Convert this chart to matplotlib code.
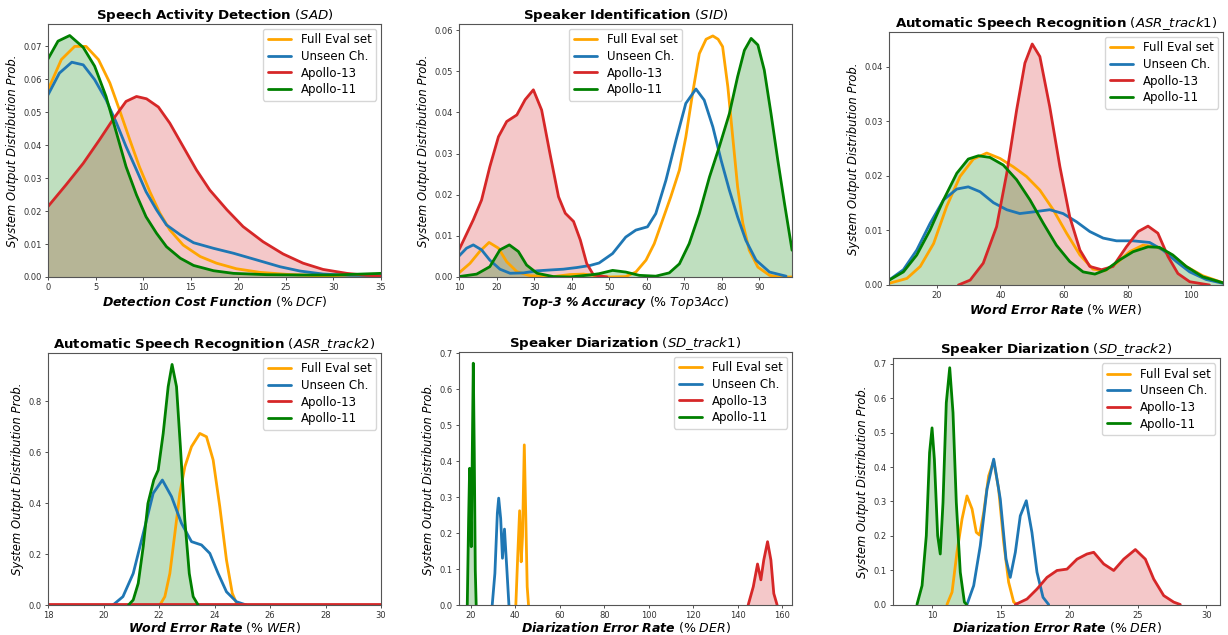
import matplotlib
matplotlib.use("Agg")
import matplotlib.pyplot as plt

# ---------------- data ----------------
LABELS = ["Full Eval set", "Unseen Ch.", "Apollo-13", "Apollo-11"]

# Panel 1: SAD
SAD_FULL_X = [0, 1.4, 2.8, 4.0, 5.3, 6.5, 7.5, 8.6, 9.6, 10.7, 11.75, 12.8, 14.2, 16.0, 17.7, 19.8, 22.3, 25.1, 28.2, 35]
SAD_FULL_Y = [0.0568, 0.066, 0.070, 0.070, 0.066, 0.0589, 0.0508, 0.0416, 0.0335, 0.0259, 0.0194, 0.0143, 0.0097, 0.0062, 0.0042, 0.0025, 0.0014, 0.0008, 0.0004, 0.0002]
SAD_UNSEEN_X = [0, 1.2, 2.5, 3.7, 4.9, 6.1, 7.2, 8.2, 9.3, 10.3, 11.4, 12.45, 13.9, 15.3, 17.4, 19.5, 21.9, 24.4, 26.5, 28.9, 31.7, 35]
SAD_UNSEEN_Y = [0.0553, 0.0619, 0.0652, 0.0644, 0.0599, 0.0538, 0.0467, 0.0396, 0.0325, 0.0259, 0.0204, 0.0158, 0.0128, 0.0104, 0.0087, 0.0072, 0.0052, 0.0031, 0.0018, 0.0009, 0.0005, 0.0004]
SAD_A13_X = [0, 1.9, 3.7, 5.4, 6.8, 8.2, 9.3, 10.35, 11.6, 12.8, 14.2, 15.6, 17.0, 18.8, 20.5, 22.6, 24.7, 26.8, 28.9, 31.4, 33.5, 35]
SAD_A13_Y = [0.0214, 0.028, 0.0345, 0.0416, 0.0477, 0.0533, 0.0548, 0.0541, 0.0516, 0.0467, 0.0396, 0.0325, 0.0264, 0.0204, 0.0153, 0.0107, 0.0070, 0.0042, 0.0023, 0.0011, 0.0005, 0.0003]
SAD_A11_X = [0, 1.05, 2.28, 3.7, 4.9, 6.1, 7.2, 8.2, 9.3, 10.3, 11.4, 12.45, 13.9, 15.3, 17.4, 19.5, 23.0, 26.5, 30.0, 35]
SAD_A11_Y = [0.0662, 0.0716, 0.0733, 0.0697, 0.064, 0.0548, 0.0437, 0.0335, 0.0249, 0.0183, 0.0133, 0.0092, 0.0057, 0.0035, 0.0019, 0.0011, 0.0007, 0.0006, 0.0006, 0.0011]

# Panel 2: SID
SID_FULL_X = [10.0, 12.9, 15.6, 18.0, 20.5, 22.7, 25.4, 28.9, 34.3, 39.6, 43.2, 46.8, 50.3, 54.4, 57.1, 59.8, 62.0, 64.2, 66.4, 68.7, 70.4, 72.2, 74.0, 75.8, 77.6, 79.0, 80.2, 81.6, 82.9, 84.2, 85.6, 87.3, 89.6, 92.7, 95.3, 98.7]
SID_FULL_Y = [0.001, 0.0033, 0.0063, 0.0084, 0.007, 0.0037, 0.0013, 0.0003, 0.0, 0.0006, 0.0007, 0.0003, 0.0, 0.0001, 0.0012, 0.0041, 0.0081, 0.0138, 0.0195, 0.026, 0.034, 0.0446, 0.0543, 0.0578, 0.0586, 0.0578, 0.056, 0.0462, 0.034, 0.0219, 0.013, 0.0065, 0.0024, 0.0004, 0.0, 0.0]
SID_UNSEEN_X = [10.0, 12.0, 13.8, 16.0, 18.2, 20.9, 23.6, 27.2, 30.8, 34.2, 37.8, 41.4, 44.9, 47.3, 50.9, 54.4, 57.1, 60.2, 62.4, 65.1, 67.8, 70.4, 73.1, 75.3, 77.6, 79.8, 82.0, 84.2, 86.4, 89.1, 92.7, 97.1]
SID_UNSEEN_Y = [0.0051, 0.007, 0.0078, 0.0066, 0.0041, 0.0019, 0.0009, 0.001, 0.0015, 0.0017, 0.0019, 0.0023, 0.0028, 0.0034, 0.0057, 0.0097, 0.0114, 0.0122, 0.0154, 0.0235, 0.0333, 0.0422, 0.0457, 0.043, 0.0365, 0.0284, 0.0211, 0.0146, 0.0089, 0.0041, 0.0012, 0.0002]
SID_A13_X = [10.0, 13.8, 16.0, 18.2, 20.5, 22.7, 25.4, 27.6, 29.8, 32.0, 34.2, 36.5, 38.3, 40.5, 42.3, 44.0, 45.8, 49.4]
SID_A13_Y = [0.0066, 0.0139, 0.0187, 0.0268, 0.0341, 0.0378, 0.0394, 0.0431, 0.0455, 0.0406, 0.0301, 0.0195, 0.0155, 0.0135, 0.009, 0.0033, 0.0005, 0.0]
SID_A11_X = [10.0, 14.7, 18.2, 20.9, 23.4, 25.8, 28.0, 30.8, 35.1, 39.6, 44.9, 47.3, 50.9, 54.4, 58.0, 62.4, 66.0, 68.7, 71.3, 74.0, 76.7, 79.3, 82.0, 84.2, 86.0, 87.8, 89.6, 91.3, 93.1, 94.9, 96.7, 98.7]
SID_A11_Y = [0.0001, 0.0007, 0.0025, 0.0066, 0.0078, 0.0062, 0.0029, 0.0009, 0.0001, 0.0, 0.0005, 0.0008, 0.0016, 0.0012, 0.0004, 0.0002, 0.001, 0.0032, 0.0081, 0.0154, 0.0243, 0.0316, 0.0397, 0.0487, 0.0551, 0.058, 0.0564, 0.0503, 0.0397, 0.0284, 0.0178, 0.0065]

# Panel 3: ASR track1
ASR1_FULL_X = [5.0, 10.6, 14.8, 19.0, 23.1, 27.3, 31.5, 35.7, 39.9, 44.0, 48.2, 52.4, 56.6, 60.8, 65.0, 69.1, 72.8, 76.5, 80.6, 84.8, 89.0, 93.2, 98.4, 103.6, 110.0]
ASR1_FULL_Y = [0.0003, 0.0012, 0.0034, 0.0076, 0.0144, 0.0199, 0.0231, 0.0242, 0.0232, 0.0217, 0.0199, 0.0174, 0.0138, 0.0095, 0.0055, 0.0029, 0.0026, 0.004, 0.0061, 0.0073, 0.007, 0.0058, 0.0034, 0.0017, 0.0004]
ASR1_UNSEEN_X = [5.0, 9.5, 13.7, 17.9, 22.1, 26.3, 29.9, 33.6, 37.8, 42.0, 46.1, 50.3, 55.5, 59.7, 63.9, 68.1, 72.3, 76.5, 81.7, 86.9, 91.1, 95.3, 99.5, 104.7, 110.0]
ASR1_UNSEEN_Y = [0.0009, 0.0028, 0.0064, 0.0113, 0.0156, 0.0176, 0.018, 0.0171, 0.0151, 0.0138, 0.0131, 0.0134, 0.0138, 0.0131, 0.0116, 0.0098, 0.0086, 0.0081, 0.0081, 0.0078, 0.0064, 0.0043, 0.0024, 0.001, 0.0003]
ASR1_A13_X = [26.8, 30.5, 34.6, 38.8, 42.0, 45.1, 47.7, 50.0, 52.4, 55.5, 58.7, 61.8, 65.0, 68.1, 71.8, 75.4, 79.6, 83.3, 86.4, 89.5, 92.7, 95.8, 99.5, 105.7]
ASR1_A13_Y = [0.0, 0.0009, 0.004, 0.0107, 0.0205, 0.0321, 0.0407, 0.0442, 0.0419, 0.0327, 0.0217, 0.0125, 0.0064, 0.0034, 0.0028, 0.0034, 0.007, 0.0098, 0.0108, 0.0095, 0.0052, 0.0021, 0.0006, 0.0]
ASR1_A11_X = [5.05, 9.5, 13.7, 17.9, 22.1, 26.3, 29.9, 33.1, 36.7, 40.9, 45.1, 49.3, 53.5, 57.6, 61.8, 66.0, 69.7, 73.3, 77.5, 81.7, 86.4, 90.0, 94.2, 98.4, 103.6, 110.0]
ASR1_A11_Y = [0.0009, 0.0024, 0.0055, 0.0101, 0.0156, 0.0205, 0.0231, 0.0237, 0.0234, 0.022, 0.0193, 0.0156, 0.0113, 0.0073, 0.0043, 0.0024, 0.002, 0.0028, 0.0046, 0.0061, 0.007, 0.0069, 0.0055, 0.0034, 0.0015, 0.0004]

# Panel 4: ASR track2
ASR2_FULL_X = [22.03, 22.21, 22.39, 22.57, 22.75, 22.93, 23.17, 23.47, 23.71, 23.95, 24.19, 24.43, 24.64, 24.82]
ASR2_FULL_Y = [0.0, 0.033, 0.124, 0.281, 0.439, 0.543, 0.622, 0.674, 0.661, 0.57, 0.386, 0.177, 0.046, 0.0]
ASR2_UNSEEN_X = [20.34, 20.7, 21.07, 21.43, 21.79, 22.12, 22.45, 22.81, 23.17, 23.53, 23.83, 24.13, 24.43, 24.79, 25.15]
ASR2_UNSEEN_Y = [0.0, 0.033, 0.124, 0.281, 0.439, 0.491, 0.426, 0.321, 0.249, 0.236, 0.203, 0.124, 0.052, 0.013, 0.0]
ASR2_A13_X = [18.0, 30.0]
ASR2_A13_Y = [0.006, 0.006]
ASR2_A11_X = [20.9, 21.07, 21.25, 21.43, 21.6, 21.81, 21.97, 22.15, 22.33, 22.47, 22.63, 22.77, 22.93, 23.09, 23.23, 23.41]
ASR2_A11_Y = [0.0, 0.02, 0.085, 0.229, 0.399, 0.491, 0.53, 0.674, 0.858, 0.945, 0.858, 0.622, 0.334, 0.124, 0.033, 0.0]

# Panel 5: SD track1
SD1_FULL_X = [40.3, 41.2, 42.0, 42.7, 43.3, 44.1, 44.8, 45.4, 46.0]
SD1_FULL_Y = [0.0, 0.144, 0.262, 0.12, 0.19, 0.445, 0.236, 0.051, 0.0]
SD1_UNSEEN_X = [29.7, 30.9, 32.0, 32.6, 33.5, 34.3, 35.2, 36.2, 37.2]
SD1_UNSEEN_Y = [0.0, 0.088, 0.255, 0.297, 0.24, 0.13, 0.211, 0.107, 0.0]
SD1_A13_X = [144.6, 146.9, 148.8, 150.3, 151.6, 153.3, 154.8, 156.1, 157.6]
SD1_A13_Y = [0.0, 0.051, 0.114, 0.07, 0.125, 0.176, 0.125, 0.032, 0.0]
SD1_A11_X = [18.5, 19.1, 19.55, 20.0, 20.3, 20.75, 21.2, 21.65, 22.1, 22.5]
SD1_A11_Y = [0.0, 0.236, 0.38, 0.236, 0.162, 0.42, 0.672, 0.42, 0.097, 0.0]

# Panel 6: SD track2
SD2_FULL_X = [11.07, 11.44, 11.8, 12.17, 12.53, 12.9, 13.21, 13.45, 13.75, 14.11, 14.48, 14.84, 15.21, 15.57, 15.94, 16.2]
SD2_FULL_Y = [0.0, 0.036, 0.152, 0.249, 0.316, 0.278, 0.21, 0.202, 0.268, 0.374, 0.418, 0.336, 0.181, 0.065, 0.007, 0.0]
SD2_UNSEEN_X = [12.53, 13.02, 13.5, 13.99, 14.48, 14.96, 15.38, 15.69, 16.06, 16.42, 16.86, 17.27, 17.64, 18.08, 18.49]
SD2_UNSEEN_Y = [0.0, 0.055, 0.171, 0.336, 0.423, 0.307, 0.132, 0.079, 0.152, 0.258, 0.302, 0.21, 0.094, 0.021, 0.0]
SD2_A13_X = [16.06, 16.91, 17.64, 18.37, 19.1, 19.83, 20.56, 21.29, 21.78, 22.51, 23.24, 23.97, 24.82, 25.55, 26.16, 26.89, 27.62, 28.1]
SD2_A13_Y = [0.0, 0.016, 0.045, 0.079, 0.099, 0.103, 0.132, 0.147, 0.152, 0.118, 0.099, 0.132, 0.16, 0.132, 0.074, 0.026, 0.007, 0.0]
SD2_A11_X = [8.88, 9.25, 9.56, 9.8, 9.98, 10.15, 10.39, 10.58, 10.78, 11.02, 11.27, 11.51, 11.75, 12.04, 12.34, 12.5]
SD2_A11_Y = [0.0, 0.055, 0.2, 0.442, 0.514, 0.423, 0.2, 0.147, 0.297, 0.587, 0.689, 0.558, 0.297, 0.094, 0.007, 0.0]

# ---------------- styling ----------------
COLORS = ["#ffa500", "#1f77b4", "#d62728", "#008000"]
FILLED = [False, False, True, True]

TITLE_FS = 9.6
XLABEL_FS = 9.0
YLABEL_FS = 8.4
TICK_FS = 6
LEGEND_FS = 8.5
LW = 2.0

panels = [
    dict(pos=[0.0391, 0.5638, 0.2712, 0.3984],
         title=r'$\bf{Speech\ Activity\ Detection}$ ($\mathit{SAD}$)',
         xlabel=r'$\mathbfit{Detection\ Cost\ Function}$ (% $\mathit{DCF}$)',
         series=[(SAD_FULL_X, SAD_FULL_Y), (SAD_UNSEEN_X, SAD_UNSEEN_Y), (SAD_A13_X, SAD_A13_Y), (SAD_A11_X, SAD_A11_Y)],
         xlim=(0, 35), ylim=(0, 0.0768), xticks=[0, 5, 10, 15, 20, 25, 30, 35],
         yticks=[0, 0.01, 0.02, 0.03, 0.04, 0.05, 0.06, 0.07], yfmt='{:.2f}', loc='upper right', pad=1),
    dict(pos=[0.3738, 0.5638, 0.2712, 0.3984],
         title=r'$\bf{Speaker\ Identification}$ ($\mathit{SID}$)',
         xlabel=r'$\mathbfit{Top‐3\ \%\ Accuracy}$ (% $\mathit{Top3Acc}$)',
         series=[(SID_FULL_X, SID_FULL_Y), (SID_UNSEEN_X, SID_UNSEEN_Y), (SID_A13_X, SID_A13_Y), (SID_A11_X, SID_A11_Y)],
         xlim=(10, 98.7), ylim=(0, 0.0615), xticks=[10, 20, 30, 40, 50, 60, 70, 80, 90],
         yticks=[0, 0.01, 0.02, 0.03, 0.04, 0.05, 0.06], yfmt='{:.2f}', loc='upper center', pad=1),
    dict(pos=[0.7240, 0.5512, 0.2720, 0.3984],
         title=r'$\bf{Automatic\ Speech\ Recognition}$ ($\mathit{ASR\_track}1$)',
         xlabel=r'$\mathbfit{Word\ Error\ Rate}$ (% $\mathit{WER}$)',
         series=[(ASR1_FULL_X, ASR1_FULL_Y), (ASR1_UNSEEN_X, ASR1_UNSEEN_Y), (ASR1_A13_X, ASR1_A13_Y), (ASR1_A11_X, ASR1_A11_Y)],
         xlim=(5, 110), ylim=(0, 0.0464), xticks=[20, 40, 60, 80, 100],
         yticks=[0, 0.01, 0.02, 0.03, 0.04], yfmt='{:.2f}', loc='upper right', pad=1),
    dict(pos=[0.0391, 0.0472, 0.2712, 0.3969],
         title=r'$\bf{Automatic\ Speech\ Recognition}$ ($\mathit{ASR\_track}2$)',
         xlabel=r'$\mathbfit{Word\ Error\ Rate}$ (% $\mathit{WER}$)',
         series=[(ASR2_FULL_X, ASR2_FULL_Y), (ASR2_UNSEEN_X, ASR2_UNSEEN_Y), (ASR2_A13_X, ASR2_A13_Y), (ASR2_A11_X, ASR2_A11_Y)],
         xlim=(18, 30), ylim=(0, 0.99), xticks=[18, 20, 22, 24, 26, 28, 30],
         yticks=[0, 0.2, 0.4, 0.6, 0.8], yfmt='{:.1f}', loc='upper right', pad=0),
    dict(pos=[0.3738, 0.0472, 0.2712, 0.3984],
         title=r'$\bf{Speaker\ Diarization}$ ($\mathit{SD\_track}1$)',
         xlabel=r'$\mathbfit{Diarization\ Error\ Rate}$ (% $\mathit{DER}$)',
         series=[(SD1_FULL_X, SD1_FULL_Y), (SD1_UNSEEN_X, SD1_UNSEEN_Y), (SD1_A13_X, SD1_A13_Y), (SD1_A11_X, SD1_A11_Y)],
         xlim=(14.8, 164.3), ylim=(0, 0.703), xticks=[20, 40, 60, 80, 100, 120, 140, 160],
         yticks=[0, 0.1, 0.2, 0.3, 0.4, 0.5, 0.6, 0.7], yfmt='{:.1f}', loc='upper right', pad=0),
    dict(pos=[0.7272, 0.0480, 0.2663, 0.3875],
         title=r'$\bf{Speaker\ Diarization}$ ($\mathit{SD\_track}2$)',
         xlabel=r'$\mathbfit{Diarization\ Error\ Rate}$ (% $\mathit{DER}$)',
         series=[(SD2_FULL_X, SD2_FULL_Y), (SD2_UNSEEN_X, SD2_UNSEEN_Y), (SD2_A13_X, SD2_A13_Y), (SD2_A11_X, SD2_A11_Y)],
         xlim=(7.13, 31.0), ylim=(0, 0.716), xticks=[10, 15, 20, 25, 30],
         yticks=[0, 0.1, 0.2, 0.3, 0.4, 0.5, 0.6, 0.7], yfmt='{:.1f}', loc='upper right', pad=0),
]

fig = plt.figure(figsize=(12.28, 6.35), dpi=100)

for p in panels:
    ax = fig.add_axes(p['pos'])
    for (xs, ys), label, color, filled in zip(p['series'], LABELS, COLORS, FILLED):
        if filled:
            ax.fill_between(xs, ys, 0, color=color, alpha=0.25, linewidth=0)
        ax.plot(xs, ys, color=color, lw=LW, label=label, solid_capstyle='round', solid_joinstyle='round')
    ax.set_xlim(*p['xlim'])
    ax.set_ylim(*p['ylim'])
    ax.set_xticks(p['xticks'])
    ax.set_xticklabels([str(t) for t in p['xticks']])
    ax.set_yticks(p['yticks'])
    ax.set_yticklabels([p['yfmt'].format(t) for t in p['yticks']])
    ax.tick_params(labelsize=TICK_FS, length=2.5, width=0.6, pad=2, colors='#333333')
    for s in ax.spines.values():
        s.set_color('#555555')
        s.set_linewidth(0.8)
    ax.set_title(p['title'], fontsize=TITLE_FS, pad=3)
    ax.set_xlabel(p['xlabel'], fontsize=XLABEL_FS, labelpad=p['pad'])
    ax.set_ylabel('System Output Distribution Prob.', fontsize=YLABEL_FS, style='italic', labelpad=3)
    ax.legend(loc=p['loc'], fontsize=LEGEND_FS, handlelength=2.0, borderaxespad=0.4, labelspacing=0.3)

fig.savefig('out.png', dpi=100)
